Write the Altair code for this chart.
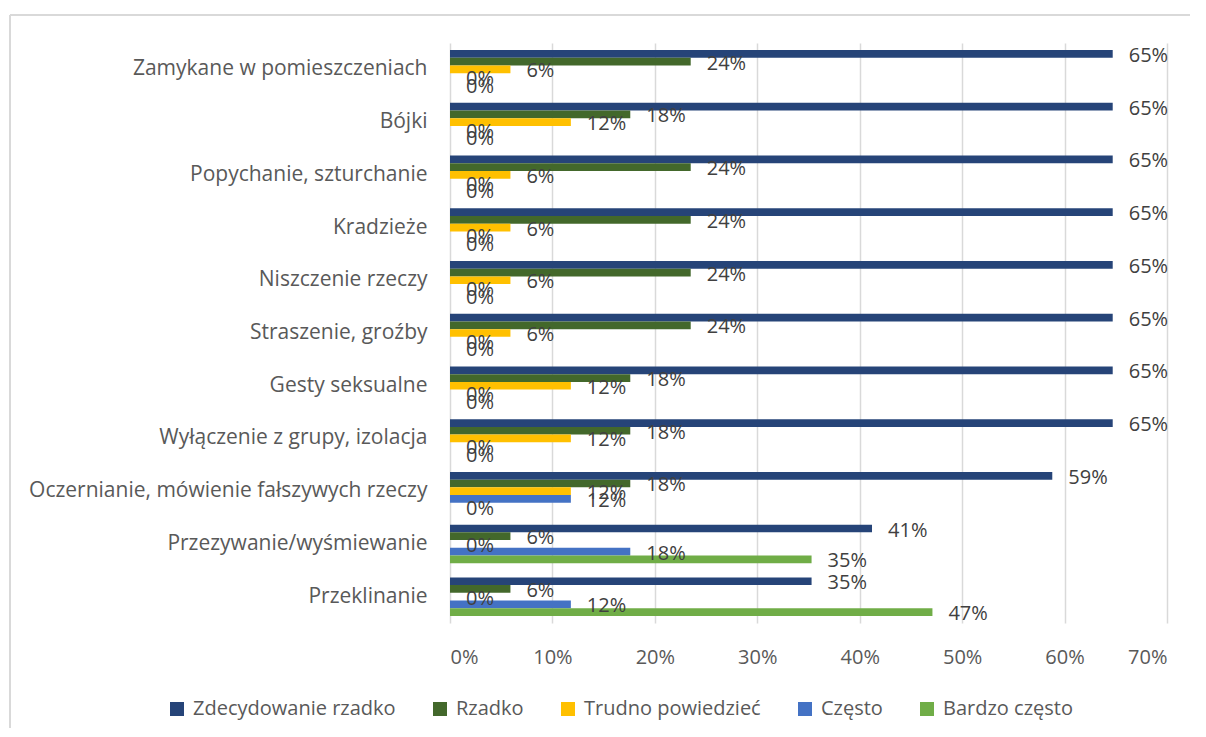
import altair as alt
import pandas as pd

categories = [
    "Zamykane w pomieszczeniach\u00a0",
    "Bójki",
    "Popychanie, szturchanie",
    "Kradzieże",
    "Niszczenie rzeczy",
    "Straszenie, groźby",
    "Gesty seksualne",
    "Wyłączenie z grupy, izolacja",
    "Oczernianie, mówienie fałszywych rzeczy",
    "Przezywanie/wyśmiewanie",
    "Przeklinanie",
]
series = ["Zdecydowanie rzadko", "Rzadko", "Trudno powiedzieć", "Często", "Bardzo często"]
colors = ["#264478", "#43682B", "#FFC000", "#4472C4", "#70AD47"]

zdecydowanie_rzadko = [0.647, 0.647, 0.647, 0.647, 0.647, 0.647, 0.647, 0.647, 0.588, 0.412, 0.353]
rzadko = [0.235, 0.176, 0.235, 0.235, 0.235, 0.235, 0.176, 0.176, 0.176, 0.059, 0.059]
trudno = [0.059, 0.118, 0.059, 0.059, 0.059, 0.059, 0.118, 0.118, 0.118, 0.0, 0.0]
czesto = [0.0, 0.0, 0.0, 0.0, 0.0, 0.0, 0.0, 0.0, 0.118, 0.176, 0.118]
bardzo_czesto = [0.0, 0.0, 0.0, 0.0, 0.0, 0.0, 0.0, 0.0, 0.0, 0.353, 0.471]

x_ticks = [0, 0.1, 0.2, 0.3, 0.4, 0.5, 0.6, 0.7]

rows = []
for s, vals in zip(series, [zdecydowanie_rzadko, rzadko, trudno, czesto, bardzo_czesto]):
    for c, v in zip(categories, vals):
        rows.append({"kategoria": c, "seria": s, "wartosc": v})
df = pd.DataFrame(rows)

FONT = "Open Sans"
W, H = 717, 580

base = alt.Chart(df).encode(
    y=alt.Y(
        "kategoria:N",
        sort=categories,
        title=None,
        scale=alt.Scale(paddingInner=0.27, paddingOuter=0.135),
        axis=alt.Axis(
            labelFont=FONT, labelFontSize=21, labelColor="#595959",
            labelPadding=23, ticks=False, domain=False, labelLimit=500,
        ),
    ),
    yOffset=alt.YOffset("seria:N", sort=series, scale=alt.Scale(paddingInner=0, paddingOuter=0)),
)

bars = base.mark_bar().encode(
    x=alt.X(
        "wartosc:Q",
        title=None,
        scale=alt.Scale(domain=[0, 0.7], nice=False),
        axis=alt.Axis(
            values=x_ticks, format=".0%", labelFont=FONT, labelFontSize=20,
            labelColor="#595959", labelPadding=24, ticks=False, domain=False,
            grid=True, gridColor="#d9d9d9", gridWidth=1.5,
        ),
    ),
    color=alt.Color(
        "seria:N",
        sort=series,
        scale=alt.Scale(domain=series, range=colors),
        legend=alt.Legend(
            title=None, orient="none", direction="horizontal", columns=5,
            legendX=-283, legendY=656, symbolType="square", symbolSize=196,
            symbolStrokeWidth=0, labelFont=FONT, labelFontSize=20,
            labelColor="#595959", labelOffset=6, columnPadding=34, padding=0,
            labelLimit=400,
        ),
    ),
)

labels = base.mark_text(
    align="left", baseline="middle", dx=16, dy=2, font=FONT, fontSize=20, color="#404040"
).encode(
    x=alt.X("wartosc:Q"),
    text=alt.Text("wartosc:Q", format=".0%"),
)

frame_df = pd.DataFrame({"a": [0]})
frame_left = alt.Chart(frame_df).mark_rule(color="#d9d9d9", strokeWidth=2).encode(
    x=alt.value(-440), y=alt.value(-28), y2=alt.value(685)
)
frame_top = alt.Chart(frame_df).mark_rule(color="#d9d9d9", strokeWidth=2).encode(
    x=alt.value(-440), x2=alt.value(740), y=alt.value(-28)
)

chart = alt.layer(frame_left, frame_top, bars, labels).properties(
    width=W, height=H,
    padding={"left": 1, "top": 6, "right": 0, "bottom": 0},
).configure_view(strokeWidth=0)

chart.save("out.html", embed_options={"renderer": "svg", "actions": False})
